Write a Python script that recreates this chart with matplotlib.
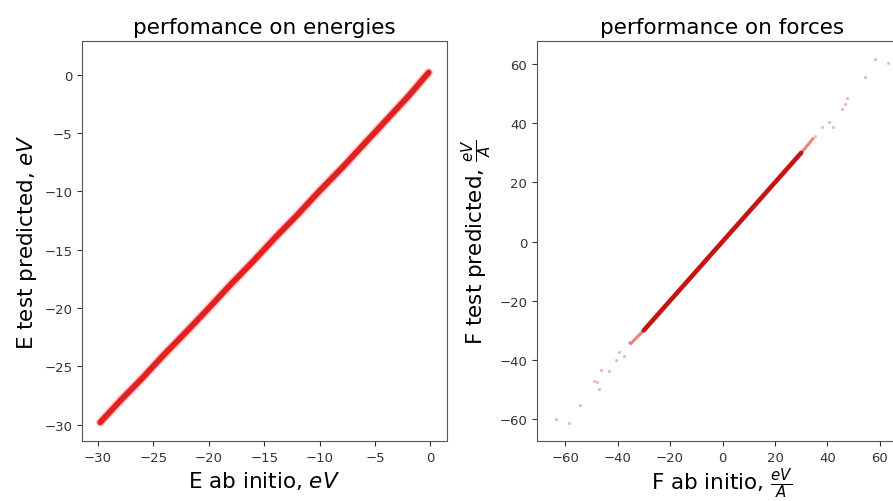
import matplotlib
matplotlib.use('Agg')
import matplotlib.pyplot as plt

# energies (eV): ab initio vs predicted, read along the band
e_ab_initio = [-29.8, -28.0, -26.0, -24.0, -22.0, -20.0, -18.0, -16.0, -14.0, -12.0,
               -10.0, -8.0, -6.0, -4.0, -2.0, -0.15]
e_predicted = [-29.8, -27.95, -26.0, -23.95, -22.0, -20.0, -17.95, -16.0, -13.95, -12.0,
               -9.95, -8.0, -5.95, -3.9, -1.85, 0.2]

# forces (eV/A): dense core of the band
f_core_ab_initio = [-35.0, -30.0, -20.0, -10.0, 0.0, 10.0, 20.0, 30.0, 34.5]
f_core_predicted = [-34.5, -30.0, -20.0, -10.0, 0.0, 10.0, 20.0, 30.0, 34.8]

# forces: sparse points off the dense band
f_out_ab_initio = [-63.5, -58.5, -54.5, -47.9, -47.2, -48.8, -46.2, -43.4, -40.6, -37.7,
                   -39.4, -35.6, 35.3, 37.8, 42.3, 40.4, 45.4, 46.5, 47.4, 54.3, 58.1, 63.2]
f_out_predicted = [-60.0, -61.3, -55.2, -47.6, -49.8, -47.0, -43.4, -43.6, -39.9, -38.8,
                   -37.4, -34.1, 35.7, 38.9, 38.9, 40.3, 44.8, 46.5, 48.7, 55.5, 61.7, 60.3]

fig = plt.figure(figsize=(8.93, 5.02), dpi=100)
ax1 = fig.add_axes([82 / 893, 60 / 502, 365 / 893, 400 / 502])
ax2 = fig.add_axes([537 / 893, 60 / 502, 371 / 893, 400 / 502])

# energies
ax1.plot(e_ab_initio, e_predicted, color='#f05050', lw=6.5, alpha=0.3, solid_capstyle='round')
ax1.plot(e_ab_initio, e_predicted, color='#e01818', lw=4.2, alpha=0.95, solid_capstyle='round')
ax1.set_xlim(-31.45, 1.5)
ax1.set_ylim(-31.4, 2.9)
ax1.set_xticks([-30, -25, -20, -15, -10, -5, 0])
ax1.set_yticks([-30, -25, -20, -15, -10, -5, 0])
ax1.set_title('perfomance on energies', fontsize=15.5)
ax1.set_xlabel('E ab initio, $eV$', fontsize=15.5)
ax1.set_ylabel('E test predicted, $eV$', fontsize=15.5)

# forces
ax2.plot(f_core_ab_initio, f_core_predicted, color='#e03030', lw=2.2, alpha=0.6, solid_capstyle='round')
ax2.plot(f_core_ab_initio[1:-1], f_core_predicted[1:-1], color='#c41414', lw=3.3, solid_capstyle='round')
ax2.scatter(f_out_ab_initio, f_out_predicted, s=5, color='#d04848', alpha=0.4, lw=0)
ax2.set_xlim(-70.7, 70.7)
ax2.set_ylim(-67.4, 67.8)
ax2.set_xticks([-60, -40, -20, 0, 20, 40, 60])
ax2.set_yticks([-60, -40, -20, 0, 20, 40, 60])
ax2.set_title('performance on forces', fontsize=15.5)
ax2.set_xlabel(r'F ab initio, $\frac{eV}{A}$', fontsize=15.5, labelpad=1)
ax2.set_ylabel(r'F test predicted, $\frac{eV}{A}$', fontsize=15.5)

for ax in (ax1, ax2):
    ax.tick_params(labelsize=9.5, colors='#333333')
    for s in ax.spines.values():
        s.set_color('#555555')

fig.savefig('out.png', dpi=100)
